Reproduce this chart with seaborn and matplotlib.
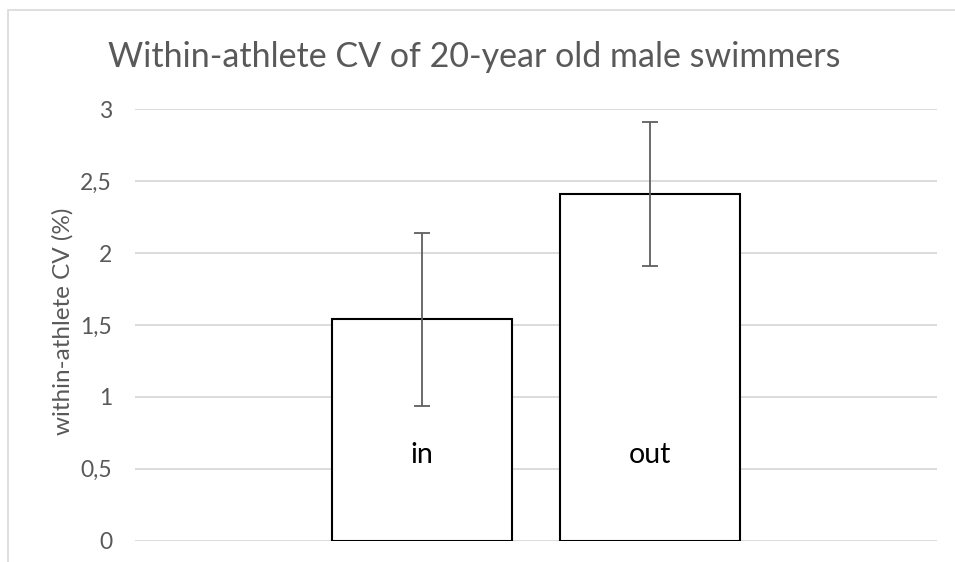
import matplotlib
matplotlib.use("Agg")
import matplotlib.pyplot as plt
import seaborn as sns
from matplotlib.patches import Rectangle
from matplotlib.ticker import FuncFormatter

# ---- data ----
categories = ["in", "out"]
cv_values = [1.54, 2.41]
cv_errors = [0.60, 0.50]
y_ticks = [0, 0.5, 1, 1.5, 2, 2.5, 3]
title = "Within-athlete CV of 20-year old male swimmers"
y_label = "within-athlete CV (%)"

sns.set_theme(style="white")
plt.rcParams["font.family"] = ["Lato", "DejaVu Sans"]

W, H = 955, 562
fig = plt.figure(figsize=(W / 100, H / 100), dpi=100)
fig.patch.set_facecolor("white")

# chart border (Excel-like, cropped on right/bottom)
fig.patches.append(Rectangle((8 / W, -0.1), 2.0, 1 - 10 / H + 0.1,
                             transform=fig.transFigure, fill=False,
                             edgecolor="#D9D9D9", linewidth=1.2, zorder=0))

left, right = 135 / W, 937 / W
bottom, top = (H - 540.7) / H, (H - 109.3) / H
ax = fig.add_axes([left, bottom, right - left, top - bottom])
ax.set_facecolor("none")

sns.barplot(x=categories, y=cv_values, color="white", edgecolor="black",
            linewidth=1.5, width=0.787, errorbar=None, saturation=1, ax=ax,
            zorder=3)
for p in ax.patches:
    p.set_facecolor("white")
    p.set_zorder(3)

ax.errorbar(x=list(range(len(categories))), y=cv_values, yerr=cv_errors,
            fmt="none", ecolor="#5F5F5F", elinewidth=1.3, capsize=6,
            capthick=1.3, zorder=4)

for i, cat in enumerate(categories):
    ax.text(i, 0.54, cat, ha="center", va="baseline", fontsize=20.5,
            color="black", zorder=5)

ax.set_xlim(-1.253, 2.253)
ax.set_ylim(0, 3)
ax.set_yticks(y_ticks)
ax.yaxis.set_major_formatter(FuncFormatter(
    lambda v, pos: (("%g" % v).replace(".", ","))))
ax.tick_params(axis="y", length=0, pad=16.5, labelsize=16.5, labelcolor="#595959")
ax.set_xticks([])
ax.set_xlabel("")
ax.set_ylabel("")
ax.grid(axis="y", color="#D9D9D9", linewidth=1.3, zorder=0)
ax.set_axisbelow(True)
for s in ax.spines.values():
    s.set_visible(False)

fig.text(63 / W, 1 - 321 / H, y_label, rotation=90, ha="center", va="center",
         fontsize=17.5, color="#595959")

fig.text(474 / W, 1 - 57 / H, title, ha="center", va="center",
         fontsize=24.5, color="#595959")

fig.savefig("out.png", dpi=100)
